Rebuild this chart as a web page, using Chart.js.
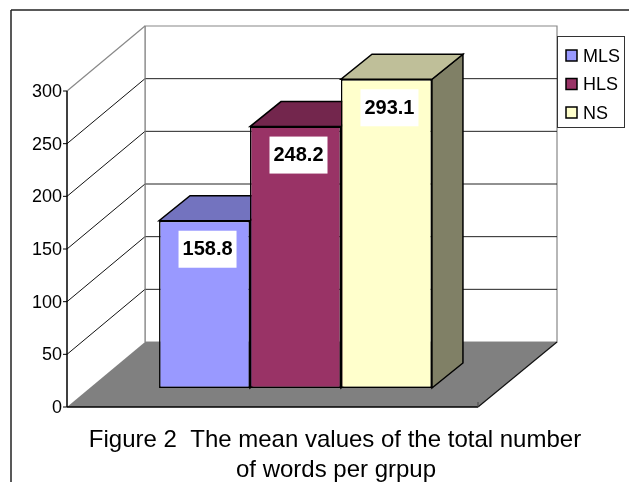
<!DOCTYPE html>
<html>
<head>
<meta charset="utf-8">
<script src="https://cdn.jsdelivr.net/npm/chart.js@4/dist/chart.umd.min.js"></script>
<style>
  html, body { margin: 0; padding: 0; background: #fff; }
  #wrap { width: 629px; height: 482px; position: relative; }
</style>
</head>
<body>
<div id="wrap"><canvas id="chart" width="629" height="482"></canvas></div>
<script>
const groups = ['MLS', 'HLS', 'NS'];
const means = [158.8, 248.2, 293.1];
const yTicks = [0, 50, 100, 150, 200, 250, 300];
const titleLines = ['Figure 2  The mean values of the total number', 'of words per grpup'];

const frontColors = ['#9999FF', '#993366', '#FFFFCC'];
const topColors = ['#7373BF', '#73264D', '#BFBF99'];
const sideColors = ['#6B6BB3', '#66233F', '#808066'];

const FONT = "'Liberation Sans', Arial, sans-serif";
// oblique offsets relative to the bar plane (chart area)
const FRONT = { dx: -23, dy: 19 };
const BACK = { dx: 55, dy: -46 };
const DEPTH = { dx: 31, dy: -25 };

function poly(ctx, pts, fill, stroke, lw) {
  ctx.beginPath();
  ctx.moveTo(pts[0][0], pts[0][1]);
  for (let i = 1; i < pts.length; i++) ctx.lineTo(pts[i][0], pts[i][1]);
  ctx.closePath();
  if (fill) { ctx.fillStyle = fill; ctx.fill(); }
  if (stroke) { ctx.strokeStyle = stroke; ctx.lineWidth = lw || 1; ctx.stroke(); }
}

function line(ctx, x1, y1, x2, y2, color, lw) {
  ctx.beginPath();
  ctx.moveTo(x1, y1);
  ctx.lineTo(x2, y2);
  ctx.strokeStyle = color;
  ctx.lineWidth = lw || 1;
  ctx.stroke();
}

const box3d = {
  id: 'box3d',
  beforeDatasetsDraw(chart) {
    const ctx = chart.ctx;
    const a = chart.chartArea;
    const y = chart.scales.y;
    const fl = a.left + FRONT.dx, fr = a.right + FRONT.dx;
    const bl = a.left + BACK.dx, br = a.right + BACK.dx + 1;
    const yF = v => y.getPixelForValue(v) + FRONT.dy;
    const yB = v => y.getPixelForValue(v) + BACK.dy;
    const top = yTicks[yTicks.length - 1];
    ctx.save();

    // outer frame
    line(ctx, 11, 10, 11, 482, '#222', 1.5);
    line(ctx, 11, 10, 629, 10, '#222', 1.5);

    // back wall
    poly(ctx, [[bl, yB(top)], [br, yB(top)], [br, yB(0)], [bl, yB(0)]], '#fff', '#888', 1.2);
    // side wall
    poly(ctx, [[fl, yF(top)], [bl, yB(top)], [bl, yB(0)], [fl, yF(0)]], '#fff', null);
    yTicks.forEach(v => {
      if (v === 0 || v === top) return;
      line(ctx, bl, yB(v), br, yB(v), '#222', 1);
      line(ctx, fl, yF(v), bl, yB(v), '#111', 1);
    });
    line(ctx, fl, yF(top), bl, yB(top), '#888', 1.2);
    line(ctx, bl, yB(top), bl, yB(0), '#888', 1.2);

    // floor
    poly(ctx, [[fl, yF(0)], [fr, yF(0)], [br, yB(0)], [bl, yB(0)]], '#808080', null);
    line(ctx, fl, yF(0), fr, yF(0), '#000', 1.5);
    line(ctx, fr, yF(0), br, yB(0), '#111', 1.2);
    line(ctx, fr, yF(0), fr, yF(0) - 5, '#444', 1);

    // front axis
    line(ctx, fl, yF(top), fl, yF(0), '#000', 1.5);
    ctx.font = '18px ' + FONT;
    ctx.fillStyle = '#000';
    ctx.textAlign = 'right';
    ctx.textBaseline = 'middle';
    yTicks.forEach(v => {
      line(ctx, fl - 4, yF(v), fl, yF(v), '#000', 1);
      ctx.fillText(String(v), fl - 5, yF(v) + 1);
    });

    // bar tops and sides
    chart.data.datasets.forEach((ds, i) => {
      const bar = chart.getDatasetMeta(i).data[0];
      const L = bar.x - bar.width / 2, R = bar.x + bar.width / 2;
      const t = bar.y, b = bar.base;
      poly(ctx, [[R, t], [R + DEPTH.dx, t + DEPTH.dy], [R + DEPTH.dx, b + DEPTH.dy], [R, b]], sideColors[i], '#000', 1.5);
      poly(ctx, [[L, t], [R, t], [R + DEPTH.dx, t + DEPTH.dy], [L + DEPTH.dx, t + DEPTH.dy]], topColors[i], '#000', 1.5);
    });
    ctx.restore();
  },
  afterDatasetsDraw(chart) {
    const ctx = chart.ctx;
    ctx.save();
    // value labels
    chart.data.datasets.forEach((ds, i) => {
      const bar = chart.getDatasetMeta(i).data[0];
      const cx = bar.x + 3;
      ctx.fillStyle = '#fff';
      ctx.fillRect(cx - 29, bar.y + 10, 58, 37);
      ctx.fillStyle = '#000';
      ctx.font = 'bold 20px ' + FONT;
      ctx.textAlign = 'center';
      ctx.textBaseline = 'middle';
      ctx.fillText(ds.data[0].toFixed(1), cx, bar.y + 29);
    });

    // legend
    ctx.fillStyle = '#fff';
    ctx.fillRect(557, 36, 67, 91);
    ctx.strokeStyle = '#333';
    ctx.lineWidth = 1;
    ctx.strokeRect(557.5, 36.5, 67, 91);
    ctx.font = '18px ' + FONT;
    ctx.textAlign = 'left';
    ctx.textBaseline = 'middle';
    chart.data.datasets.forEach((ds, i) => {
      const cy = 56 + i * 28.5;
      ctx.fillStyle = frontColors[i];
      ctx.fillRect(566, cy - 6, 11, 11);
      ctx.strokeStyle = '#000';
      ctx.lineWidth = 1.5;
      ctx.strokeRect(566, cy - 6, 11, 11);
      ctx.fillStyle = '#000';
      ctx.fillText(ds.label, 583, cy + 1);
    });

    // caption
    ctx.font = '24px ' + FONT;
    ctx.textAlign = 'center';
    ctx.textBaseline = 'alphabetic';
    ctx.fillText(titleLines[0], 335, 447);
    ctx.fillText(titleLines[1], 336, 477);
    ctx.restore();
  }
};

new Chart(document.getElementById('chart'), {
  type: 'bar',
  data: {
    labels: [''],
    datasets: groups.map((g, i) => ({
      label: g,
      data: [means[i]],
      backgroundColor: frontColors[i],
      borderColor: '#000',
      borderWidth: 1.5,
      borderSkipped: false
    }))
  },
  options: {
    responsive: false,
    animation: false,
    maintainAspectRatio: false,
    layout: { padding: { left: 90, top: 72, right: 128, bottom: 94 } },
    datasets: { bar: { categoryPercentage: 0.664, barPercentage: 1 } },
    scales: {
      x: { display: false },
      y: { display: false, min: 0, max: 300 }
    },
    plugins: {
      legend: { display: false },
      title: { display: false },
      tooltip: { enabled: false }
    }
  },
  plugins: [box3d]
});
</script>
</body>
</html>
